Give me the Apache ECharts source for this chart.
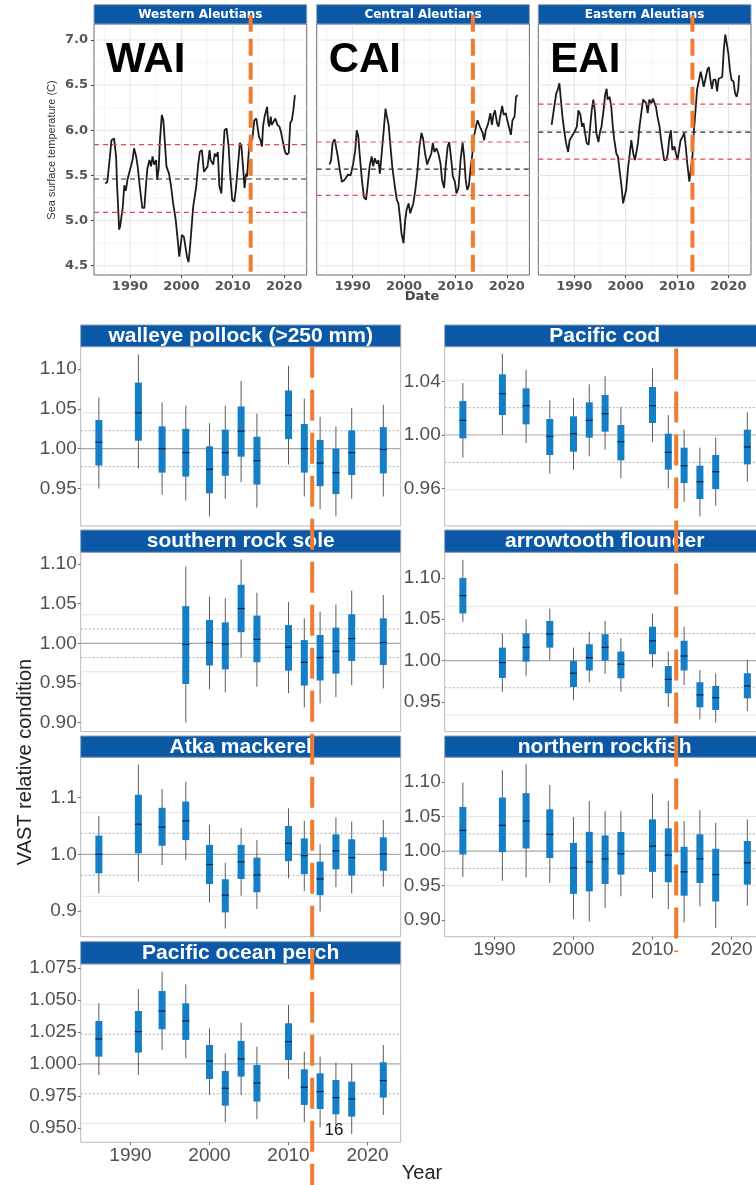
<!DOCTYPE html>
<html>
<head>
<meta charset="utf-8">
<script src="https://cdn.jsdelivr.net/npm/echarts@6/dist/echarts.min.js"></script>
<style>
  html, body { margin: 0; padding: 0; background: #ffffff; }
  #chart { width: 756px; height: 1185px; }
</style>
</head>
<body>
<div id="chart"></div>
<script>
// ---------- Sea surface temperature, Aleutian Islands regions ----------
const sstRegions = ['Western Aleutians', 'Central Aleutians', 'Eastern Aleutians'];
const sstCodes = ['WAI', 'CAI', 'EAI'];

const sstWAI = [
  [1985.2,5.41],[1985.6,5.43],[1986.1,5.71],[1986.4,5.89],[1986.9,5.91],[1987.3,5.71],[1987.5,5.38],
  [1987.9,4.90],[1988.1,4.94],[1988.6,5.15],[1988.9,5.39],[1989.2,5.33],[1989.5,5.45],[1990.0,5.56],
  [1990.5,5.67],[1990.8,5.80],[1991.2,5.71],[1991.5,5.60],[1991.9,5.38],[1992.4,5.14],[1992.8,5.14],
  [1993.1,5.38],[1993.4,5.58],[1993.8,5.67],[1994.1,5.60],[1994.4,5.71],[1994.7,5.62],[1995.1,5.67],
  [1995.3,5.45],[1995.6,5.58],[1995.8,5.86],[1996.2,6.17],[1996.5,6.11],[1996.8,5.86],[1997.1,5.60],
  [1997.6,5.52],[1998.0,5.38],[1998.4,5.19],[1998.9,5.01],[1999.3,4.78],[1999.6,4.60],[1999.9,4.60],
  [2000.1,4.84],[2000.5,4.82],[2000.8,4.82],[2001.1,4.60],[2001.4,4.54],[2001.7,4.71],[2002.0,4.93],
  [2002.3,5.15],[2002.9,5.38],[2003.3,5.63],[2003.6,5.76],[2004.0,5.78],[2004.4,5.54],[2004.7,5.56],
  [2005.1,5.60],[2005.5,5.78],[2005.7,5.67],[2006.0,5.67],[2006.2,5.62],[2006.5,5.74],[2006.8,5.71],
  [2007.1,5.76],[2007.4,5.38],[2007.8,5.30],[2008.0,5.60],[2008.4,6.00],[2008.8,6.02],[2009.2,5.82],
  [2009.5,5.52],[2009.9,5.23],[2010.3,5.21],[2010.6,5.34],[2011.0,5.60],[2011.4,5.86],[2011.7,5.82],
  [2012.0,5.60],[2012.3,5.36],[2012.6,5.52],[2012.8,5.49],[2013.1,5.74],[2013.4,5.93],[2013.8,5.89],
  [2014.2,6.11],[2014.6,6.13],[2014.9,6.11],[2015.1,5.93],[2015.4,5.89],[2015.7,5.82],[2015.9,6.04],
  [2016.2,6.15],[2016.5,6.17],[2016.7,6.26],[2016.9,6.09],[2017.1,6.04],[2017.4,6.15],[2017.6,6.06],
  [2017.9,6.04],[2018.3,6.13],[2018.7,6.06],[2019.1,6.04],[2019.4,5.98],[2019.7,5.89],[2020.2,5.76],
  [2020.5,5.73],[2020.9,5.75],[2021.2,6.08],[2021.5,6.11],[2021.8,6.22],[2022.1,6.39]
];

const sstCAI = [
  [1985.5,5.62],[1985.8,5.67],[1986.1,5.86],[1986.5,5.90],[1986.8,5.89],[1987.1,5.71],[1987.5,5.56],
  [1987.9,5.43],[1988.4,5.45],[1988.7,5.47],[1989.1,5.51],[1989.6,5.50],[1990.1,5.63],[1990.5,5.78],
  [1990.8,6.00],[1991.1,5.93],[1991.4,5.71],[1991.8,5.45],[1992.2,5.26],[1992.6,5.23],[1992.9,5.38],
  [1993.3,5.60],[1993.7,5.71],[1994.0,5.60],[1994.3,5.69],[1994.7,5.63],[1995.0,5.67],[1995.3,5.52],
  [1995.6,5.71],[1996.0,5.97],[1996.4,6.24],[1996.6,6.17],[1997.0,6.06],[1997.3,5.86],[1997.7,5.60],
  [1998.2,5.38],[1998.6,5.23],[1998.9,5.19],[1999.2,5.04],[1999.5,4.86],[1999.9,4.75],[2000.2,4.99],
  [2000.5,5.12],[2000.9,5.19],[2001.2,5.08],[2001.5,5.06],[2001.8,5.19],[2002.2,5.34],[2002.6,5.54],
  [2003.0,5.82],[2003.4,5.97],[2003.7,5.91],[2004.1,5.74],[2004.5,5.62],[2004.8,5.67],[2005.3,5.74],
  [2005.6,5.86],[2005.9,5.76],[2006.3,5.80],[2006.7,5.74],[2007.1,5.63],[2007.4,5.45],[2007.8,5.36],
  [2008.1,5.60],[2008.5,5.82],[2008.8,5.87],[2009.2,5.67],[2009.5,5.49],[2009.9,5.43],[2010.2,5.30],
  [2010.6,5.36],[2011.0,5.67],[2011.4,5.86],[2011.7,5.71],[2012.0,5.45],[2012.3,5.34],[2012.6,5.38],
  [2013.0,5.60],[2013.3,5.74],[2013.6,5.93],[2014.0,6.04],[2014.3,6.11],[2014.6,6.13],[2014.9,6.02],
  [2015.3,5.97],[2015.6,5.89],[2015.9,6.00],[2016.3,6.06],[2016.5,6.11],[2016.8,6.19],[2017.1,6.06],
  [2017.4,6.17],[2017.7,6.22],[2018.1,6.08],[2018.4,6.04],[2018.7,6.15],[2019.1,6.27],[2019.4,6.17],
  [2019.8,6.19],[2020.1,6.11],[2020.5,6.02],[2020.8,5.95],[2021.1,6.11],[2021.5,6.15],[2021.8,6.37],
  [2022.1,6.39]
];

const sstEAI = [
  [1985.6,6.06],[1985.9,6.08],[1986.1,6.26],[1986.5,6.41],[1986.8,6.45],[1987.1,6.52],[1987.4,6.34],
  [1987.7,6.15],[1988.1,5.97],[1988.4,5.86],[1988.8,5.76],[1989.1,5.89],[1989.5,5.93],[1989.9,5.97],
  [1990.2,6.00],[1990.5,6.04],[1990.8,6.22],[1991.2,6.17],[1991.5,6.04],[1991.8,6.08],[1992.1,5.97],
  [1992.4,5.86],[1992.8,5.84],[1993.1,6.04],[1993.4,6.22],[1993.7,6.34],[1994.0,6.22],[1994.3,5.97],
  [1994.7,5.87],[1995.0,5.98],[1995.3,6.04],[1995.7,6.22],[1996.0,6.39],[1996.3,6.46],[1996.5,6.34],
  [1996.9,6.37],[1997.2,6.26],[1997.5,6.04],[1997.8,5.89],[1998.2,5.74],[1998.5,5.71],[1998.9,5.52],
  [1999.2,5.38],[1999.5,5.19],[1999.8,5.17],[2000.1,5.34],[2000.5,5.60],[2000.8,5.74],[2001.1,5.89],
  [2001.5,5.74],[2001.8,5.67],[2002.1,5.76],[2002.4,5.86],[2002.7,6.04],[2003.0,6.17],[2003.4,6.34],
  [2003.7,6.35],[2004.0,6.30],[2004.3,6.19],[2004.6,6.34],[2005.0,6.30],[2005.3,6.35],[2005.6,6.37],
  [2005.9,6.26],[2006.2,6.15],[2006.6,6.04],[2006.9,5.89],[2007.2,5.78],[2007.5,5.67],[2007.9,5.67],
  [2008.2,5.74],[2008.5,5.91],[2008.8,6.00],[2009.1,5.78],[2009.5,5.82],[2009.8,5.74],[2010.1,5.67],
  [2010.4,5.78],[2010.7,5.89],[2011.1,5.93],[2011.4,5.97],[2011.7,5.82],[2012.0,5.63],[2012.4,5.43],
  [2012.7,5.45],[2013.0,5.71],[2013.3,6.00],[2013.6,6.22],[2013.9,6.45],[2014.3,6.56],[2014.6,6.65],
  [2014.9,6.57],[2015.2,6.48],[2015.5,6.56],[2015.9,6.67],[2016.2,6.70],[2016.5,6.56],[2016.8,6.46],
  [2017.1,6.56],[2017.5,6.56],[2017.8,6.43],[2018.1,6.57],[2018.4,6.56],[2018.8,6.59],[2019.1,6.89],
  [2019.4,7.06],[2019.7,7.04],[2020.0,6.85],[2020.3,6.67],[2020.6,6.56],[2021.0,6.54],[2021.3,6.41],
  [2021.6,6.37],[2021.9,6.45],[2022.1,6.61]
];

// long-term mean and +/- 1 SD bands per region
const sstMean  = [5.46, 5.57, 5.98];
const sstUpper = [5.84, 5.87, 6.29];
const sstLower = [5.09, 5.28, 5.68];

const sstTicks = [4.5, 5.0, 5.5, 6.0, 6.5, 7.0];
const sstMinorTicks = [4.75, 5.25, 5.75, 6.25, 6.75];
const yearTicks = [1990, 2000, 2010, 2020];
const yearMinorTicks = [1985, 1995, 2005, 2015];
const sstShiftYear = [2013.5, 2013.4, 2013.0];

// ---------- VAST relative condition by species ----------
// rows: [lower whisker, box low, median, box high, upper whisker]
const surveyYears = [1986, 1991, 1994, 1997, 2000, 2002, 2004, 2006, 2010, 2012, 2014, 2016, 2018, 2022];
const rockSoleYears = [1997, 2000, 2002, 2004, 2006, 2010, 2012, 2014, 2016, 2018, 2022];

const walleyePollock = [
  [0.950,0.979,1.008,1.036,1.064],[0.975,1.010,1.045,1.083,1.118],[0.942,0.970,1.000,1.028,1.058],
  [0.935,0.965,0.995,1.025,1.054],[0.915,0.944,0.974,1.003,1.032],[0.937,0.966,0.995,1.024,1.054],
  [0.958,0.990,1.022,1.053,1.085],[0.926,0.955,0.985,1.015,1.044],[0.980,1.012,1.042,1.073,1.104],
  [0.940,0.970,1.000,1.031,1.063],[0.924,0.953,0.982,1.011,1.040],[0.915,0.943,0.970,1.000,1.028],
  [0.937,0.967,0.995,1.023,1.051],[0.940,0.969,0.999,1.027,1.055]
];
const pacificCod = [
  [0.983,0.9975,1.011,1.0255,1.039],[1.000,1.015,1.031,1.0455,1.061],[0.994,1.008,1.022,1.035,1.049],
  [0.971,0.985,0.999,1.012,1.026],[0.974,0.9875,1.001,1.014,1.0275],[0.984,0.998,1.011,1.0245,1.038],
  [0.989,1.0025,1.016,1.030,1.044],[0.9675,0.981,0.995,1.0075,1.021],[0.995,1.009,1.022,1.036,1.050],
  [0.960,0.974,0.987,1.001,1.015],[0.950,0.964,0.977,0.9905,1.004],[0.939,0.952,0.965,0.977,0.9905],
  [0.947,0.9595,0.9725,0.985,0.998],[0.965,0.978,0.991,1.004,1.017]
];
const southernRockSole = [
  [0.900,0.9486,0.9987,1.047,1.097],[0.942,0.972,1.001,1.0295,1.059],[0.938,0.967,0.999,1.0265,1.057],
  [0.982,1.014,1.044,1.074,1.106],[0.945,0.976,1.005,1.035,1.064],[0.937,0.9654,0.995,1.023,1.052],
  [0.919,0.9465,0.976,1.004,1.0316],[0.924,0.953,0.982,1.0105,1.040],[0.932,0.9617,0.990,1.0198,1.049],
  [0.947,0.9777,1.006,1.0367,1.0666],[0.943,0.9726,1.001,1.0316,1.061]
];
const arrowtoothFlounder = [
  [1.047,1.057,1.0786,1.100,1.122],[0.962,0.979,0.9976,1.0157,1.033],[0.981,0.9988,1.016,1.033,1.050],
  [1.000,1.0157,1.032,1.048,1.063],[0.952,0.968,0.9847,0.9996,1.0157],[0.974,0.988,1.0036,1.0198,1.035],
  [0.984,1.000,1.016,1.032,1.048],[0.9625,0.9786,0.9956,1.011,1.027],[0.9915,1.0077,1.024,1.041,1.057],
  [0.944,0.9605,0.9774,0.9935,1.011],[0.9706,0.988,1.0056,1.024,1.041],[0.929,0.9435,0.9585,0.9738,0.9887],
  [0.925,0.9403,0.9552,0.9694,0.9847],[0.939,0.9544,0.9694,0.9847,1.0008]
];
const atkaMackerel = [
  [0.931,0.9665,1.000,1.033,1.0676],[0.952,1.0018,1.053,1.105,1.158],[0.981,1.015,1.048,1.082,1.115],
  [0.990,1.025,1.059,1.093,1.128],[0.915,0.9476,0.982,1.0165,1.052],[0.869,0.8976,0.928,0.956,0.985],
  [0.927,0.9565,0.9865,1.0165,1.046],[0.9035,0.933,0.9635,0.994,1.025],[0.9576,0.988,1.0194,1.050,1.081],
  [0.935,0.965,0.9976,1.028,1.059],[0.899,0.928,0.9565,0.987,1.0176],[0.942,0.9735,1.006,1.035,1.065],
  [0.931,0.9624,0.9941,1.0265,1.0576],[0.943,0.971,1.0006,1.030,1.0606]
];
const northernRockfish = [
  [0.9626,0.9951,1.030,1.064,1.0995],[0.957,0.9985,1.0374,1.0777,1.1175],[0.962,1.0039,1.0437,1.084,1.126],
  [0.954,0.990,1.0243,1.0607,1.096],[0.9015,0.938,0.9757,1.012,1.0495],[0.898,0.9417,0.9845,1.028,1.0728],
  [0.9175,0.9524,0.9888,1.0228,1.058],[0.9345,0.966,0.9961,1.0277,1.058],[0.932,0.970,1.0073,1.046,1.0835],
  [0.916,0.9549,0.9942,1.033,1.0728],[0.8966,0.9354,0.970,1.0063,1.0437],[0.920,0.9539,0.9888,1.0243,1.0592],
  [0.8883,0.927,0.966,1.0034,1.0413],[0.921,0.9515,0.983,1.0146,1.046]
];
const pacificOceanPerch = [
  [0.9914,1.0057,1.0195,1.0336,1.0474],[0.9914,1.0089,1.0253,1.0414,1.0586],[1.0109,1.0271,1.0414,1.057,1.0721],
  [1.0044,1.0188,1.0336,1.0474,1.0622],[0.9758,0.9883,1.0023,1.0148,1.0279],[0.9544,0.9674,0.981,0.9945,1.0083],
  [0.9758,0.9901,1.0039,1.018,1.0323],[0.9568,0.9706,0.9852,0.9992,1.0135],[0.9883,1.0031,1.0174,1.0318,1.0461],
  [0.9544,0.968,0.9818,0.9958,1.0096],[0.9503,0.9648,0.9784,0.9927,1.0057],[0.9523,0.9607,0.9737,0.9875,1.001],
  [0.9453,0.9589,0.9727,0.9862,1.0005],[0.9602,0.9737,0.987,1.0013,1.0148]
];

const speciesNames = ['walleye pollock (>250 mm)', 'Pacific cod', 'southern rock sole',
  'arrowtooth flounder', 'Atka mackerel', 'northern rockfish', 'Pacific ocean perch'];
const speciesSeries = [walleyePollock, pacificCod, southernRockSole, arrowtoothFlounder,
  atkaMackerel, northernRockfish, pacificOceanPerch];
const speciesYears = [surveyYears, surveyYears, rockSoleYears, surveyYears,
  surveyYears, surveyYears, surveyYears];
// one standard deviation of the condition index (dotted lines; faint lines at two SD)
const conditionSD = [0.0225, 0.0205, 0.018, 0.0328, 0.037, 0.025, 0.0233];
const conditionTicks = [
  [0.95, 1.00, 1.05, 1.10], [0.96, 1.00, 1.04], [0.90, 0.95, 1.00, 1.05, 1.10],
  [0.95, 1.00, 1.05, 1.10], [0.9, 1.0, 1.1], [0.90, 0.95, 1.00, 1.05, 1.10],
  [0.950, 0.975, 1.000, 1.025, 1.050, 1.075]
];
const conditionTickDecimals = [2, 2, 2, 2, 1, 2, 3];
const conditionShiftYear = 2013.0;

// ---------- layout ----------
const FONT = '"Liberation Sans", Arial, sans-serif';
const WIDE = '"DejaVu Sans", sans-serif';
const STRIP = '#0b58a6';
const ORANGE = '#ee7d31';
const BOX = '#147ec6';
const yearLabel = v => String(Math.round(v));

const topLayout = { lefts: [94, 316.7, 538.3], width: 212.7, stripTop: 4.7, top: 24, height: 251,
  xRange: [1983.0, 2024.4], yRange: [4.397, 7.177] };
const condLayout = {
  lefts: [80.7, 444.7], width: 320, xRange: [1983.7, 2024.2],
  rows: [
    { stripTop: 325, top: 346.7, bottom: 526 },
    { stripTop: 530, top: 552.3, bottom: 731.7 },
    { stripTop: 736, top: 757.3, bottom: 936.7 },
    { stripTop: 941.7, top: 964, bottom: 1142.3 }
  ],
  cells: [[0,0],[1,0],[0,1],[1,1],[0,2],[1,2],[0,3]],
  yRanges: [[0.903,1.128],[0.9318,1.0662],[0.8883,1.115],[0.914,1.131],[0.8547,1.171],[0.876,1.136],[0.9388,1.0781]],
  xLabelPanels: [5, 6]
};

// rule styles: 0 major grid, 1 minor grid, 2 mean, 3 sd band, 4 unity, 5 one SD, 6 two SD
const ruleStyles = [
  { stroke: '#e3e3e3', lineWidth: 1 },
  { stroke: '#f1f1f1', lineWidth: 0.8 },
  { stroke: '#2b2b2b', lineWidth: 1.2, lineDash: [5, 4] },
  { stroke: '#e5484d', lineWidth: 1.2, lineDash: [5, 4] },
  { stroke: '#a9a9a9', lineWidth: 1.2 },
  { stroke: '#ababab', lineWidth: 1, lineDash: [2, 2] },
  { stroke: '#e4e4e4', lineWidth: 1 }
];

// rows: [orientation (0 horizontal, 1 vertical), value, style]
function renderRule(params, api) {
  const cs = params.coordSys;
  const orient = api.value(0), v = api.value(1), st = ruleStyles[api.value(2)];
  let shape;
  if (orient === 0) {
    const y = api.coord([0, v])[1];
    shape = { x1: cs.x, y1: y, x2: cs.x + cs.width, y2: y };
  } else {
    const x = api.coord([v, 0])[0];
    shape = { x1: x, y1: cs.y, x2: x, y2: cs.y + cs.height };
  }
  return { type: 'line', shape: shape, style: Object.assign({ fill: null }, st), silent: true };
}

// rows: [year, lower whisker, box low, median, box high, upper whisker]
function renderBox(params, api) {
  const x = api.value(0);
  const lo = api.coord([x, api.value(1)]);
  const q1 = api.coord([x, api.value(2)]);
  const md = api.coord([x, api.value(3)]);
  const q3 = api.coord([x, api.value(4)]);
  const hi = api.coord([x, api.value(5)]);
  const w = 7;
  return {
    type: 'group',
    children: [
      { type: 'line', shape: { x1: lo[0], y1: lo[1], x2: hi[0], y2: hi[1] },
        style: { stroke: '#5c5c5c', lineWidth: 1 } },
      { type: 'rect', shape: { x: q3[0] - w / 2, y: q3[1], width: w, height: q1[1] - q3[1] },
        style: { fill: BOX } },
      { type: 'line', shape: { x1: md[0] - w / 2, y1: md[1], x2: md[0] + w / 2, y2: md[1] },
        style: { stroke: '#10263d', lineWidth: 1.2 } }
    ]
  };
}

const grids = [], xAxes = [], yAxes = [], series = [];
const sstData = [sstWAI, sstCAI, sstEAI];

// top row: SST panels
for (let i = 0; i < 3; i++) {
  grids.push({ left: topLayout.lefts[i], top: topLayout.top, width: topLayout.width, height: topLayout.height,
    show: true, backgroundColor: '#ffffff', borderColor: '#6b6b6b', borderWidth: 1, outerBoundsMode: 'none' });
  xAxes.push({ type: 'value', gridIndex: i, min: topLayout.xRange[0], max: topLayout.xRange[1],
    axisLine: { show: false }, splitLine: { show: false },
    axisTick: { show: true, customValues: yearTicks, length: 3, lineStyle: { color: '#444' } },
    axisLabel: { customValues: yearTicks, formatter: yearLabel,
      fontFamily: WIDE, fontWeight: 'bold', fontSize: 13, color: '#555', margin: 5 } });
  yAxes.push({ type: 'value', gridIndex: i, min: topLayout.yRange[0], max: topLayout.yRange[1],
    axisLine: { show: false }, splitLine: { show: false },
    axisTick: { show: i === 0, customValues: sstTicks, length: 3, lineStyle: { color: '#444' } },
    axisLabel: { show: i === 0, customValues: sstTicks, formatter: v => v.toFixed(1),
      fontFamily: WIDE, fontWeight: 'bold', fontSize: 13, color: '#555', margin: 6 } });

  const rules = [];
  sstMinorTicks.forEach(v => rules.push([0, v, 1]));
  yearMinorTicks.forEach(v => rules.push([1, v, 1]));
  sstTicks.forEach(v => rules.push([0, v, 0]));
  yearTicks.forEach(v => rules.push([1, v, 0]));
  series.push({ type: 'custom', xAxisIndex: i, yAxisIndex: i, z: 1, silent: true,
    renderItem: renderRule, data: rules });
  series.push({ type: 'line', xAxisIndex: i, yAxisIndex: i, z: 3, data: sstData[i], showSymbol: false,
    symbol: 'none', silent: true, lineStyle: { color: '#1c1c1c', width: 1.8 } });
  series.push({ type: 'custom', xAxisIndex: i, yAxisIndex: i, z: 4, silent: true, renderItem: renderRule,
    data: [[0, sstUpper[i], 3], [0, sstLower[i], 3], [0, sstMean[i], 2]] });
}

// lower block: condition panels
speciesNames.forEach((name, k) => {
  const gi = 3 + k;
  const [col, row] = condLayout.cells[k];
  const r = condLayout.rows[row];
  const showX = condLayout.xLabelPanels.includes(k);
  grids.push({ left: condLayout.lefts[col], top: r.top, width: condLayout.width, height: r.bottom - r.top,
    show: true, backgroundColor: '#ffffff', borderColor: '#b9b9b9', borderWidth: 1, outerBoundsMode: 'none' });
  xAxes.push({ type: 'value', gridIndex: gi, min: condLayout.xRange[0], max: condLayout.xRange[1],
    axisLine: { show: false }, splitLine: { show: false },
    axisTick: { show: showX, customValues: yearTicks, length: 3, lineStyle: { color: '#777' } },
    axisLabel: { show: showX, customValues: yearTicks, formatter: yearLabel,
      fontFamily: FONT, fontSize: 19, color: '#505050', margin: 4 } });
  const dec = conditionTickDecimals[k];
  yAxes.push({ type: 'value', gridIndex: gi, min: condLayout.yRanges[k][0], max: condLayout.yRanges[k][1],
    axisLine: { show: false }, splitLine: { show: false },
    axisTick: { show: true, customValues: conditionTicks[k], length: 3, lineStyle: { color: '#777' } },
    axisLabel: { customValues: conditionTicks[k], formatter: v => v.toFixed(dec),
      fontFamily: FONT, fontSize: 19, color: '#505050', margin: 4 } });

  const sd = conditionSD[k];
  series.push({ type: 'custom', xAxisIndex: gi, yAxisIndex: gi, z: 1, silent: true, renderItem: renderRule,
    data: [[0, 1 + 2 * sd, 6], [0, 1 - 2 * sd, 6], [0, 1 + sd, 5], [0, 1 - sd, 5], [0, 1, 4]] });
  series.push({ type: 'custom', xAxisIndex: gi, yAxisIndex: gi, z: 3, silent: true, renderItem: renderBox,
    encode: { x: 0, y: [1, 2, 3, 4, 5] },
    data: speciesSeries[k].map((row5, j) => [speciesYears[k][j]].concat(row5)) });
});

const chart = echarts.init(document.getElementById('chart'), null, { renderer: 'canvas', width: 756, height: 1185 });
chart.setOption({
  animation: false,
  backgroundColor: '#ffffff',
  grid: grids, xAxis: xAxes, yAxis: yAxes, series: series
});

// ---------- strips, titles and regime-shift markers ----------
const graphics = [];
function stripRect(x, y, w, h, text, font) {
  graphics.push({ type: 'rect', z: 10, silent: true, shape: { x: x, y: y, width: w, height: h },
    style: { fill: STRIP, stroke: '#8c9fb4', lineWidth: 1 } });
  graphics.push({ type: 'text', z: 11, silent: true, x: x + w / 2, y: y + h / 2 + 0.5,
    style: { text: text, fill: '#ffffff', font: font, align: 'center', verticalAlign: 'middle' } });
}
for (let i = 0; i < 3; i++) {
  stripRect(topLayout.lefts[i], topLayout.stripTop, topLayout.width, topLayout.top - topLayout.stripTop,
    sstRegions[i], 'bold 12px ' + WIDE);
  const p = chart.convertToPixel({ gridIndex: i }, [topLayout.xRange[0], topLayout.yRange[1]]);
  graphics.push({ type: 'text', z: 12, silent: true, x: p[0] + 12, y: p[1] + 36,
    style: { text: sstCodes[i], fill: '#000000', font: 'bold 42px ' + FONT, align: 'left', verticalAlign: 'middle' } });
  const top = chart.convertToPixel({ gridIndex: i }, [sstShiftYear[i], topLayout.yRange[1]]);
  const bot = chart.convertToPixel({ gridIndex: i }, [sstShiftYear[i], topLayout.yRange[0]]);
  graphics.push({ type: 'line', z: 20, silent: true,
    shape: { x1: top[0], y1: topLayout.stripTop + 10, x2: bot[0], y2: bot[1] + 1 },
    style: { stroke: ORANGE, lineWidth: 4, lineDash: [17, 7] } });
}
speciesNames.forEach((name, k) => {
  const [col, row] = condLayout.cells[k];
  const r = condLayout.rows[row];
  stripRect(condLayout.lefts[col], r.stripTop, condLayout.width, r.top - r.stripTop, name, 'bold 21px ' + FONT);
});
// regime-shift markers through each column of condition panels
[[3, 346.7, 1185], [4, 348.5, 952]].forEach(([gi, y1, y2]) => {
  const p = chart.convertToPixel({ gridIndex: gi }, [conditionShiftYear, 1]);
  graphics.push({ type: 'line', z: 20, silent: true, shape: { x1: p[0], y1: y1, x2: p[0], y2: y2 },
    style: { stroke: ORANGE, lineWidth: 4, lineDash: [31, 12] } });
});

graphics.push({ type: 'text', z: 12, silent: true, x: 52, y: 150, rotation: Math.PI / 2,
  style: { text: 'Sea surface temperature (C)', fill: '#333333', font: '11px "Liberation Sans Narrow", ' + FONT,
    align: 'center', verticalAlign: 'middle' } });
graphics.push({ type: 'text', z: 12, silent: true, x: 422, y: 297,
  style: { text: 'Date', fill: '#444444', font: 'bold 13px ' + WIDE, align: 'center', verticalAlign: 'middle' } });
graphics.push({ type: 'text', z: 12, silent: true, x: 25, y: 762, rotation: Math.PI / 2,
  style: { text: 'VAST relative condition', fill: '#222222', font: '20px ' + FONT, align: 'center', verticalAlign: 'middle' } });
graphics.push({ type: 'text', z: 12, silent: true, x: 422, y: 1173,
  style: { text: 'Year', fill: '#222222', font: '20px ' + FONT, align: 'center', verticalAlign: 'middle' } });
graphics.push({ type: 'text', z: 21, silent: true, x: 334, y: 1130,
  style: { text: '16', fill: '#111111', font: '17px ' + FONT, align: 'center', verticalAlign: 'middle' } });

chart.setOption({ graphic: { elements: graphics } });
</script>
</body>
</html>
